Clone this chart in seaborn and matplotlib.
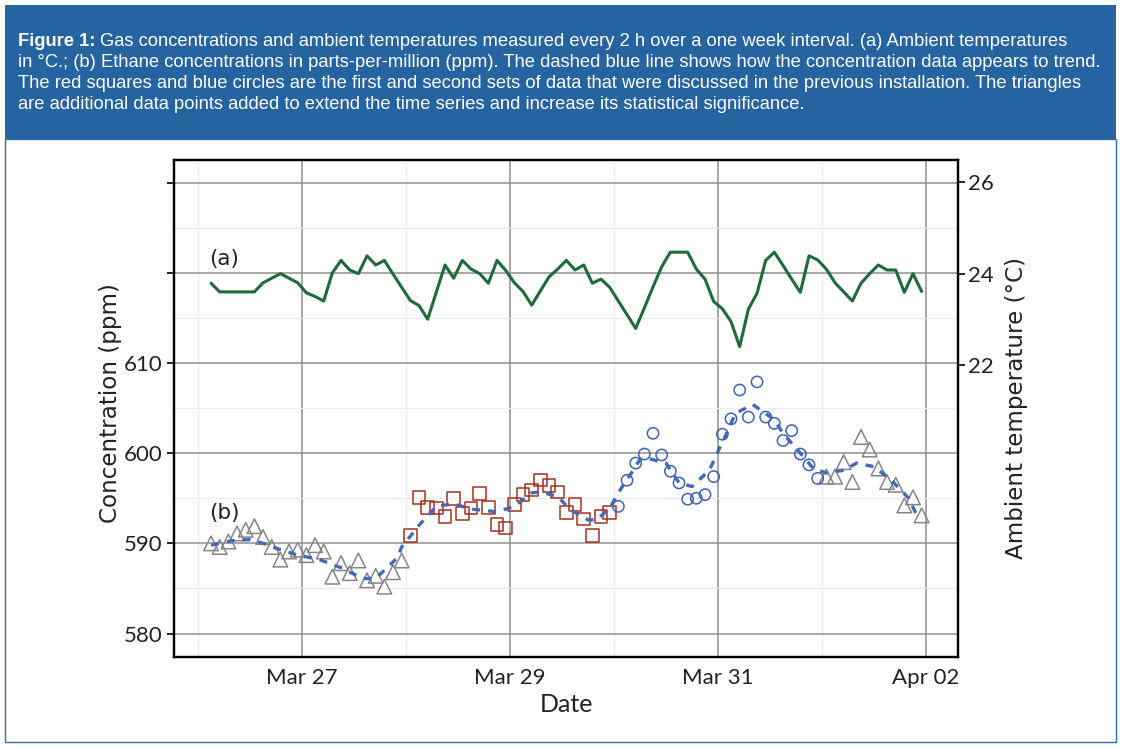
import matplotlib
matplotlib.use("Agg")
import matplotlib.pyplot as plt
import matplotlib.dates as mdates
from matplotlib.patches import Rectangle
from matplotlib.ticker import FixedLocator, MultipleLocator
import numpy as np
import pandas as pd
import seaborn as sns

# ---------------- data ----------------
start_time = "2016-03-26 03:00"
step_hours = 2

temperature_c = [
    23.79, 23.6, 23.6, 23.6, 23.6, 23.6, 23.8, 23.9, 24.0, 23.9,
    23.8, 23.58, 23.5, 23.4, 24.02, 24.29, 24.08, 24.0, 24.39, 24.19,
    24.29, 23.99, 23.70, 23.41, 23.30, 23.0, 23.6, 24.19, 23.90, 24.29,
    24.10, 24.0, 23.79, 24.29, 24.07, 23.80, 23.61, 23.31, 23.62, 23.93,
    24.1, 24.29, 24.08, 24.19, 23.79, 23.88, 23.70, 23.40, 23.10, 22.80,
    23.25, 23.71, 24.15, 24.47, 24.47, 24.47, 24.10, 23.88, 23.39, 23.23,
    22.95, 22.40, 23.22, 23.57, 24.29, 24.47, 24.18, 23.88, 23.59, 24.39,
    24.30, 24.10, 23.80, 23.6, 23.40, 23.79, 24.0, 24.19, 24.08, 24.08,
    23.59, 24.0, 23.61,
]

concentration_ppm = [
    590.0, 589.6, 590.2, 591.1, 591.5, 591.9, 590.7, 589.6, 588.2, 589.1,
    589.3, 588.7, 589.8, 589.1, 586.3, 587.8, 586.7, 588.1, 585.9, 586.4,
    585.2, 586.8, 588.1, 590.9, 595.1, 594.0, 593.9, 593.0, 595.0, 593.3,
    593.9, 595.5, 594.0, 592.1, 591.7, 594.3, 595.4, 595.9, 597.0, 596.4,
    595.7, 593.4, 594.3, 592.7, 590.9, 593.0, 593.4, 594.1, 597.0, 598.9,
    599.9, 602.2, 599.8, 598.0, 596.7, 594.9, 595.0, 595.4, 597.4, 602.1,
    603.8, 607.0, 604.0, 607.9, 604.0, 603.3, 601.4, 602.5, 599.9, 598.7,
    597.2, 597.4, 597.4, 599.0, 596.8, 601.8, 600.4, 598.3, 596.8, 596.5,
    594.2, 595.1, 593.1,
]

data_set = ["additional"] * 23 + ["first"] * 24 + ["second"] * 24 + ["additional"] * 12

trend_hours = [0, 6, 9, 12, 16, 20, 25, 30, 35, 38, 43, 44, 48, 52, 56, 60, 66,
               70, 74, 76, 80, 83, 87, 89, 92, 94, 97, 99, 101, 105, 108, 111,
               115, 117, 119, 121, 125, 130, 132, 136, 139, 142, 146, 149, 153,
               157, 161, 163]
trend_ppm = [589.8, 590.4, 590.4, 590.0, 589.3, 588.7, 588.2, 587.3, 586.1,
             586.1, 588.4, 589.6, 592.0, 594.1, 594.4, 593.8, 593.5, 594.1,
             595.6, 595.7, 595.2, 593.7, 592.6, 592.6, 593.9, 595.6, 597.8,
             599.3, 599.4, 598.9, 596.7, 596.3, 598.1, 600.2, 602.2, 604.4,
             605.4, 603.7, 602.2, 600.0, 598.3, 597.8, 598.1, 598.9, 598.5,
             597.0, 595.0, 593.0]

xtick_dates = ["2016-03-27", "2016-03-29", "2016-03-31", "2016-04-02"]
xtick_labels = ["Mar 27", "Mar 29", "Mar 31", "Apr 02"]
xminor_dates = ["2016-03-26", "2016-03-28", "2016-03-30", "2016-04-01"]
ytick_conc = [580, 590, 600, 610, 620, 630]
ytick_conc_labels = ["580", "590", "600", "610", "", ""]
ytick_temp = [22, 24, 26]

caption_bold = "Figure 1:"
caption_lines = [
    "Gas concentrations and ambient temperatures measured every 2 h over a one week interval. (a) Ambient temperatures",
    "in \u00b0C.; (b) Ethane concentrations in parts-per-million (ppm). The dashed blue line shows how the concentration data appears to trend.",
    "The red squares and blue circles are the first and second sets of data that were discussed in the previous installation. The triangles",
    "are additional data points added to extend the time series and increase its statistical significance.",
]

# ---------------- frame ----------------
t0 = pd.Timestamp(start_time)
times = t0 + pd.to_timedelta(np.arange(len(temperature_c)) * step_hours, unit="h")
df = pd.DataFrame({"time": times, "temp": temperature_c,
                   "conc": concentration_ppm, "set": data_set})
trend_df = pd.DataFrame({"time": t0 + pd.to_timedelta(trend_hours, unit="h"),
                         "conc": trend_ppm})

sns.set_style("white")
plt.rcParams["font.family"] = ["DejaVu Sans"]

W, H = 1122, 748
fig = plt.figure(figsize=(W / 100, H / 100), dpi=100)

# header and panel (behind the axes)
fig.patches.append(Rectangle((5 / W, 1 - 139 / H), 1111 / W, 134 / H,
                             transform=fig.transFigure, facecolor="#2563a1",
                             edgecolor="none", zorder=-10))
fig.patches.append(Rectangle((5 / W, 1 - 742 / H), 1111 / W, 603 / H,
                             transform=fig.transFigure, facecolor="white",
                             edgecolor="#2f6db0", lw=1.0, zorder=-10))

L, R, T, B = 174, 958, 160, 657
ax = fig.add_axes([L / W, 1 - B / H, (R - L) / W, (B - T) / H])
ax2 = ax.twinx()
ax.patch.set_alpha(0)

# concentration markers
styles = {
    "additional": ("^", 110, "#858585"),
    "first": ("s", 82, "#a3321f"),
    "second": ("o", 66, "#3d62b5"),
}
for name, (mk, size, col) in styles.items():
    sub = df[df["set"] == name]
    sns.scatterplot(data=sub, x="time", y="conc", marker=mk, s=size, ax=ax,
                    legend=False, zorder=3)
    coll = ax.collections[-1]
    coll.set_facecolor("none")
    coll.set_edgecolor(col)
    coll.set_linewidth(1.1)

# trend line
sns.lineplot(data=trend_df, x="time", y="conc", ax=ax, color="#4468b8",
             lw=2.4, legend=False, zorder=4)
ax.lines[-1].set_dashes([2.4, 2.4])

# temperature
sns.lineplot(data=df, x="time", y="temp", ax=ax2, color="#1d6b3b", lw=2.2,
             legend=False)

# axes limits (pixel-matched to the reference)
ax.set_xlim(pd.Timestamp("2016-03-25 18:27"), pd.Timestamp("2016-04-02 07:23"))
ax.set_ylim(577.4, 632.5)
ax2.set_ylim(15.6, 26.49)

# ticks
ax.xaxis.set_major_locator(FixedLocator(mdates.date2num(pd.to_datetime(xtick_dates))))
ax.xaxis.set_minor_locator(FixedLocator(mdates.date2num(pd.to_datetime(xminor_dates))))
ax.set_xticklabels(xtick_labels)
ax.set_yticks(ytick_conc)
ax.set_yticklabels(ytick_conc_labels)
ax.yaxis.set_minor_locator(MultipleLocator(5))
ax2.set_yticks(ytick_temp)
ax2.set_yticklabels([str(v) for v in ytick_temp])

for lab in ax.get_xticklabels() + ax.get_yticklabels() + ax2.get_yticklabels():
    lab.set_fontfamily("Lato")
    lab.set_fontsize(16)
    lab.set_color("#222222")

ax.tick_params(axis="both", which="major", length=5, width=1.2, color="black",
               direction="out", pad=3)
ax.tick_params(axis="both", which="minor", length=0)
ax2.tick_params(axis="y", which="major", length=5, width=1.2, color="black",
                direction="out", pad=2)

ax.grid(which="major", color="#8f8f8f", lw=1.1)
ax.grid(which="minor", color="#ececec", lw=0.8)
ax.set_axisbelow(True)
ax2.grid(False)

for a in (ax, ax2):
    for sp in a.spines.values():
        sp.set_visible(True)
        sp.set_color("black")
        sp.set_linewidth(1.6)

ax.set_xlabel("")
ax.set_ylabel("")
ax2.set_ylabel("")

# labels
fig.text(566 / W, 1 - 705 / H, "Date", ha="center", va="center",
         family="Lato", size=18, color="#222222")
fig.text(110 / W, 1 - 403 / H, "Concentration (ppm)", rotation=90,
         ha="center", va="center", size=16.6, color="#222222")
fig.text(1016 / W, 1 - 408 / H, "Ambient temperature (\u00b0C)", rotation=90,
         ha="center", va="center", size=16.6, color="#222222")
fig.text(224 / W, 1 - 259 / H, "(a)", ha="center", va="center", size=15.5,
         color="#222222")
fig.text(224 / W, 1 - 513 / H, "(b)", ha="center", va="center", size=15.5,
         color="#222222")

# caption
fig.canvas.draw()
r = fig.canvas.get_renderer()
baselines = [46, 67, 88, 109]
cap_kw = dict(family="Liberation Sans", size=13.2, color="white", va="baseline")
tb = fig.text(18 / W, 1 - baselines[0] / H, caption_bold, weight="bold", **cap_kw)
bb = tb.get_window_extent(r)
fig.text((bb.x1 + 5) / W, 1 - baselines[0] / H, caption_lines[0], **cap_kw)
for yb, line in zip(baselines[1:], caption_lines[1:]):
    fig.text(18 / W, 1 - yb / H, line, **cap_kw)

fig.savefig("out.png", dpi=100)
